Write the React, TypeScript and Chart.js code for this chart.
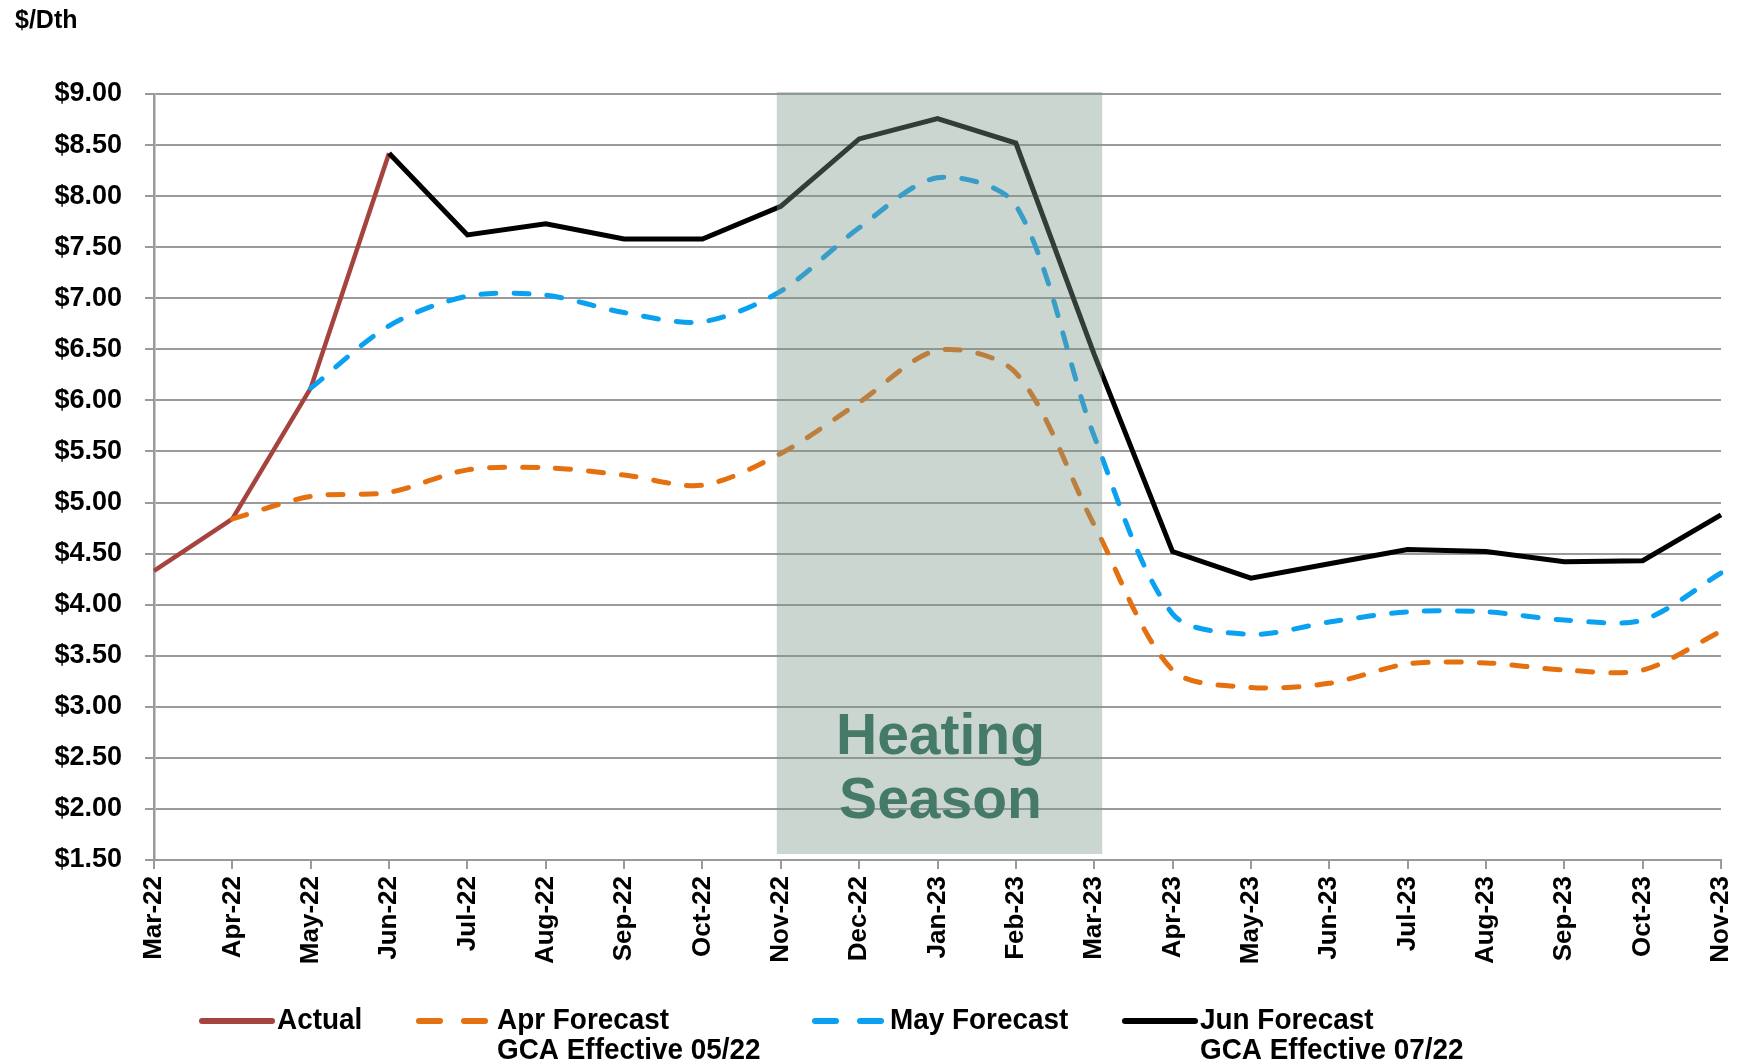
import React, { useEffect, useRef } from 'react';
import { Chart, registerables } from 'chart.js';

Chart.register(...registerables);

const months = ['Mar-22', 'Apr-22', 'May-22', 'Jun-22', 'Jul-22', 'Aug-22', 'Sep-22', 'Oct-22', 'Nov-22', 'Dec-22', 'Jan-23', 'Feb-23', 'Mar-23', 'Apr-23', 'May-23', 'Jun-23', 'Jul-23', 'Aug-23', 'Sep-23', 'Oct-23', 'Nov-23'];

const actual = [4.33, 4.84, 6.12, 8.42, null, null, null, null, null, null, null, null, null, null, null, null, null, null, null, null, null];
const aprForecast = [null, 4.84, 5.06, 5.10, 5.32, 5.34, 5.27, 5.17, 5.48, 5.98, 6.49, 6.27, 4.78, 3.36, 3.19, 3.23, 3.42, 3.43, 3.36, 3.36, 3.74];
const mayForecast = [null, null, 6.12, 6.73, 7.02, 7.03, 6.86, 6.77, 7.07, 7.69, 8.18, 7.91, 5.65, 3.91, 3.71, 3.83, 3.93, 3.93, 3.85, 3.85, 4.31];
const junForecast = [null, null, null, 8.42, 7.62, 7.73, 7.58, 7.58, 7.90, 8.56, 8.76, 8.52, 6.45, 4.52, 4.26, 4.40, 4.54, 4.52, 4.42, 4.43, 4.88];

const yMin = 1.5;
const yMax = 9;
const yStep = 0.5;
const unitLabel = '$/Dth';
const seasonLabel = ['Heating', 'Season'];
const seasonStart = 'Nov-22';
const seasonEnd = 'Mar-23';
const legendLabels = [['Actual'], ['Apr Forecast', 'GCA Effective 05/22'], ['May Forecast'], ['Jun Forecast', 'GCA Effective 07/22']];

const COLORS = ['#A5443F', '#E5700F', '#0AA2F0', '#000000'];
const FONT = "'Liberation Sans', Arial, sans-serif";

const overlayPlugin = {
  id: 'heatingOverlay',
  afterDatasetsDraw(chart: any) {
    const { ctx, scales } = chart;
    const x = scales.x;
    const y = scales.y;
    const i0 = months.indexOf(seasonStart);
    const i1 = months.indexOf(seasonEnd);
    const left = x.getPixelForValue(i0) - 4;
    const right = x.getPixelForValue(i1) + 8;
    const top = y.getPixelForValue(yMax) - 2;
    const bottom = y.getPixelForValue(yMin) - 6;
    ctx.save();
    ctx.fillStyle = 'rgba(125,152,137,0.4)';
    ctx.fillRect(left, top, right - left, bottom - top);
    ctx.fillStyle = '#467A68';
    ctx.font = `bold 57px ${FONT}`;
    ctx.textAlign = 'center';
    ctx.textBaseline = 'middle';
    const cx = (left + right) / 2 + 1;
    ctx.fillText(seasonLabel[0], cx, bottom - 116);
    ctx.fillText(seasonLabel[1], cx, bottom - 52);
    ctx.restore();
  },
};

const legendPlugin = {
  id: 'customLegend',
  afterDraw(chart: any) {
    const { ctx } = chart;
    ctx.save();
    ctx.fillStyle = '#000';
    ctx.font = `bold 25px ${FONT}`;
    ctx.textAlign = 'left';
    ctx.textBaseline = 'middle';
    ctx.fillText(unitLabel, 15, 21);

    const itemX = [200, 416, 812, 1123];
    const textX = [277, 497, 890, 1200];
    const y1 = 1021;
    const y2 = 1051;
    const dashed = [false, true, true, false];
    legendLabels.forEach((lines, i) => {
      ctx.strokeStyle = COLORS[i];
      ctx.lineWidth = 6;
      ctx.lineCap = 'round';
      ctx.beginPath();
      if (dashed[i]) {
        ctx.moveTo(itemX[i] + 3, y1);
        ctx.lineTo(itemX[i] + 24, y1);
        ctx.moveTo(itemX[i] + 48, y1);
        ctx.lineTo(itemX[i] + 69, y1);
      } else {
        ctx.moveTo(itemX[i] + 2, y1);
        ctx.lineTo(itemX[i] + 72, y1);
      }
      ctx.stroke();
      ctx.fillStyle = '#000';
      ctx.font = `bold 30px ${FONT}`;
      ctx.textAlign = 'left';
      ctx.textBaseline = 'middle';
      lines.forEach((t, k) => {
        ctx.save();
        ctx.translate(textX[i], k === 0 ? y1 : y2);
        ctx.scale(0.93, 1);
        ctx.fillText(t, 0, 0);
        ctx.restore();
      });
    });
    ctx.restore();
  },
};

export default function App() {
  const ref = useRef<HTMLCanvasElement | null>(null);

  useEffect(() => {
    if (!ref.current) return;
    const chart = new Chart(ref.current, {
      type: 'line',
      data: {
        labels: months,
        datasets: [
          {
            label: 'Actual',
            data: actual,
            borderColor: COLORS[0],
            borderWidth: 4.5,
            pointRadius: 0,
            tension: 0,
            order: 3,
          },
          {
            label: 'Apr Forecast',
            data: aprForecast,
            borderColor: COLORS[1],
            borderWidth: 5,
            borderDash: [15, 18],
            borderCapStyle: 'round',
            pointRadius: 0,
            tension: 0.3,
            order: 2,
          },
          {
            label: 'May Forecast',
            data: mayForecast,
            borderColor: COLORS[2],
            borderWidth: 5,
            borderDash: [15, 18],
            borderCapStyle: 'round',
            pointRadius: 0,
            tension: 0.3,
            order: 1,
          },
          {
            label: 'Jun Forecast',
            data: junForecast,
            borderColor: COLORS[3],
            borderWidth: 5,
            pointRadius: 0,
            tension: 0,
            order: 0,
          },
        ],
      } as any,
      options: {
        responsive: false,
        animation: false,
        layout: { padding: { top: 94, right: 17, bottom: 4, left: 0 } },
        plugins: {
          legend: { display: false },
          tooltip: { enabled: false },
          title: { display: false },
        },
        scales: {
          x: {
            type: 'category',
            offset: false,
            grid: {
              drawOnChartArea: false,
              drawTicks: true,
              tickLength: 9,
              color: '#9A9A9A',
              lineWidth: 2,
            },
            border: { color: '#9A9A9A', width: 2 },
            ticks: {
              autoSkip: false,
              maxRotation: 90,
              minRotation: 90,
              padding: 7,
              color: '#000',
              font: { family: FONT, size: 26, weight: 'bold' },
            },
            afterFit(scale: any) {
              scale.height = 200;
              scale.paddingLeft = 0;
              scale.paddingRight = 0;
            },
          },
          y: {
            min: yMin,
            max: yMax,
            grid: {
              color: '#9A9A9A',
              lineWidth: 2,
              tickLength: 9,
            },
            border: { color: '#9A9A9A', width: 2.5 },
            ticks: {
              stepSize: yStep,
              padding: 23,
              color: '#000',
              font: { family: FONT, size: 27, weight: 'bold' },
              callback: (v: any) => '$' + Number(v).toFixed(2),
            },
            afterFit(scale: any) {
              scale.width = 154;
              scale.paddingTop = 0;
              scale.paddingBottom = 0;
            },
          },
        },
      } as any,
      plugins: [overlayPlugin, legendPlugin],
    });
    return () => chart.destroy();
  }, []);

  return (
    <div style={{ position: 'absolute', left: 0, top: 0, width: 1738, height: 1064, background: '#fff' }}>
      <canvas ref={ref} width={1738} height={1064} style={{ display: 'block' }} />
    </div>
  );
}
